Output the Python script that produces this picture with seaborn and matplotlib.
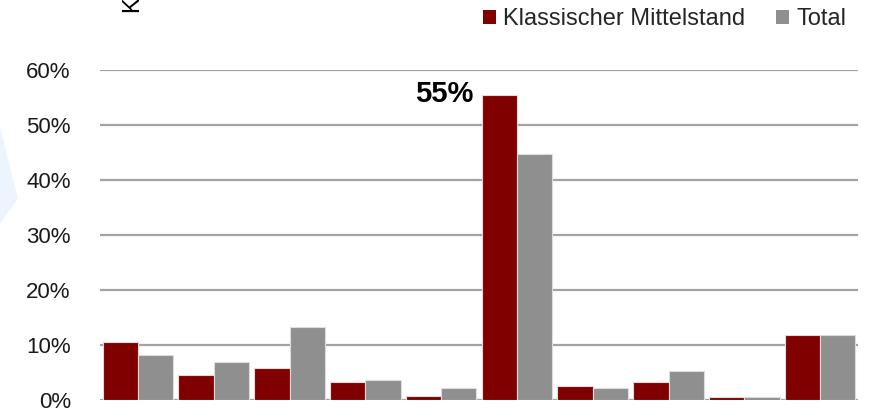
import matplotlib
matplotlib.use("Agg")
import matplotlib.pyplot as plt
from matplotlib.patches import Patch, Polygon
import seaborn as sns
import pandas as pd

# Share of companies per category (in %)
categories = ["1", "2", "3", "4", "5", "6", "7", "8", "9", "10"]
mittelstand = [10.5, 4.5, 5.8, 3.3, 0.7, 55.4, 2.5, 3.3, 0.5, 11.8]
total = [8.2, 7.0, 13.2, 3.6, 2.1, 44.7, 2.1, 5.3, 0.5, 11.8]
series_names = ["Klassischer Mittelstand", "Total"]
y_ticks = [0, 10, 20, 30, 40, 50, 60]
highlight_label = "55%"

RED = "#800000"
GREY = "#8f8f8f"

sns.set_theme(style="white")
plt.rcParams["font.family"] = ["Liberation Sans", "DejaVu Sans"]

df = pd.DataFrame({
    "category": categories * 2,
    "value": mittelstand + total,
    "series": [series_names[0]] * len(categories) + [series_names[1]] * len(categories),
})

fig = plt.figure(figsize=(8.71, 4.19), dpi=100)
ax = fig.add_axes([100 / 871, 19 / 419, 758 / 871, 330 / 419])

# faint decorative shape on the left margin
fig.patches.append(Polygon([(0, 1 - 128 / 419), (18 / 871, 1 - 198 / 419), (0, 1 - 224 / 419)],
                           closed=True, transform=fig.transFigure,
                           facecolor="#ecf5fe", edgecolor="none", zorder=0))

sns.barplot(data=df, x="category", y="value", hue="series", order=categories,
            hue_order=series_names, palette=[RED, GREY], width=0.93, gap=0,
            edgecolor="#dcdcdc", linewidth=0.8, saturation=1, legend=False,
            ax=ax, zorder=3)

ax.set_ylim(0, 60)
ax.set_yticks(y_ticks)
ax.set_yticklabels([f"{t}%" for t in y_ticks], fontsize=16, color="#1a1a1a")
ax.tick_params(axis="y", length=0, pad=21)
ax.set_xticks([])
ax.set_xlabel("")
ax.set_ylabel("")
for s in ax.spines.values():
    s.set_visible(False)
ax.yaxis.grid(True, color="#a3a3a3", linewidth=1.6, zorder=0)
ax.set_axisbelow(True)

# value label next to the tallest bar
ax.annotate(highlight_label, xy=(5 - 0.465, mittelstand[5]), xytext=(-6, 1),
            textcoords="offset points", ha="right", va="center",
            fontsize=21, fontweight="bold", color="black")

handles = [Patch(facecolor=RED, edgecolor="none"), Patch(facecolor=GREY, edgecolor="none")]
fig.legend(handles, series_names, loc="center right",
           bbox_to_anchor=(846 / 871, 1 - 19 / 419), ncol=2, frameon=False,
           fontsize=17, handlelength=0.55, handleheight=0.55, handletextpad=0.3,
           columnspacing=1.3, borderpad=0, borderaxespad=0)

# rotated axis title, mostly outside the top edge
fig.text(132 / 871, 1 - 12 / 419, "K", rotation=90, ha="center", va="bottom",
         fontsize=17, color="black")

fig.savefig("out.png", dpi=100)
